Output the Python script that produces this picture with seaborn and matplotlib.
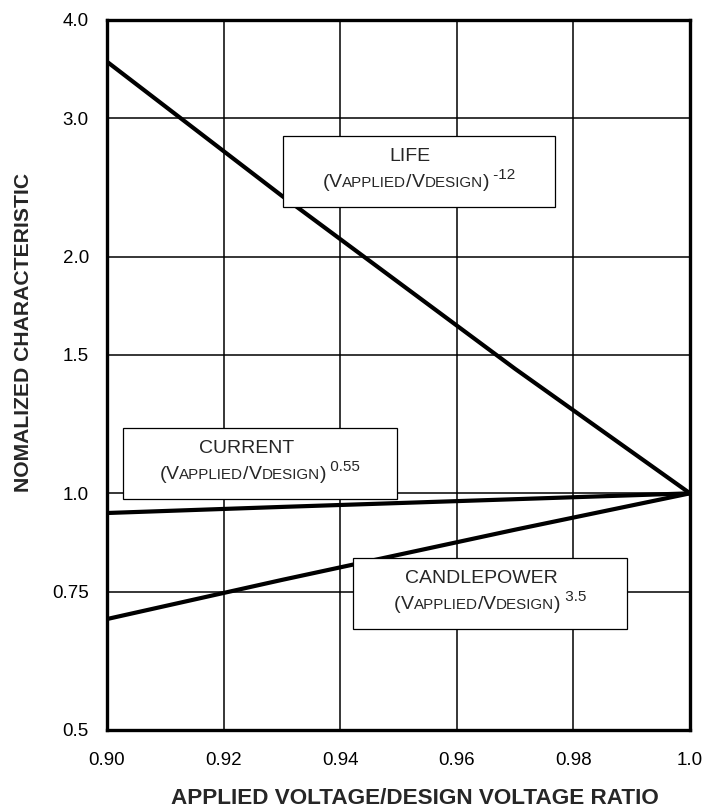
import pandas as pd
import matplotlib.pyplot as plt
import matplotlib.patches as mpatches
import seaborn as sns

##### Data

ratio = [0.90, 0.93, 0.97, 1.00]
life = [3.54, 2.39, 1.44, 1.00]
current = [0.944, 0.961, 0.983, 1.00]
candlepower = [0.692, 0.776, 0.899, 1.00]

y_ticks = [0.5, 0.75, 1.0, 1.5, 2.0, 3.0, 4.0]
y_tick_labels = ["0.5", "0.75", "1.0", "1.5", "2.0", "3.0", "4.0"]
x_ticks = [0.90, 0.92, 0.94, 0.96, 0.98, 1.00]
x_tick_labels = ["0.90", "0.92", "0.94", "0.96", "0.98", "1.0"]

df = pd.DataFrame({
    'ratio': ratio * 3,
    'value': life + current + candlepower,
    'curve': ['LIFE'] * 4 + ['CURRENT'] * 4 + ['CANDLEPOWER'] * 4,
})

##### Style

sns.set_theme(style="white")
plt.rcParams['font.family'] = ['Liberation Sans', 'DejaVu Sans']

W, H = 718, 809
fig = plt.figure(figsize=(W / 100, H / 100), dpi=100)
# axes box in pixels: x 107..690, y 20..730 (from top)
ax = fig.add_axes([107 / W, 1 - 730 / H, 583 / W, 710 / H])

sns.lineplot(data=df, x='ratio', y='value', hue='curve',
             palette={'LIFE': 'black', 'CURRENT': 'black', 'CANDLEPOWER': 'black'},
             linewidth=3.0, legend=False, ax=ax, zorder=3)

ax.set_yscale('log')
ax.set_xlim(0.90, 1.00)
ax.set_ylim(0.5, 4.0)
ax.set_yticks(y_ticks)
ax.set_yticklabels(y_tick_labels)
ax.set_xticks(x_ticks)
ax.set_xticklabels(x_tick_labels)
ax.yaxis.set_minor_locator(plt.NullLocator())
ax.tick_params(axis='both', length=0, labelsize=13.5, colors='black')
ax.tick_params(axis='y', pad=13)
ax.tick_params(axis='x', pad=16)
ax.grid(True, color='black', linewidth=1.1)
ax.set_axisbelow(True)
for s in ax.spines.values():
    s.set_color('black')
    s.set_linewidth(2.4)
ax.set_xlabel('')
ax.set_ylabel('')

fig.text(415 / W, 1 - 804 / H, "APPLIED VOLTAGE/DESIGN VOLTAGE RATIO",
         ha='center', va='baseline', fontsize=16.2, fontweight='bold')
fig.text(24 / W, 1 - 332 / H, "NOMALIZED CHARACTERISTIC", rotation=90,
         ha='center', va='center', fontsize=15.2, fontweight='bold')

##### Annotation boxes with small caps text

renderer = fig.canvas.get_renderer()


def px(x, y):
    # pixel coords from top-left -> figure fraction
    return x / W, 1 - y / H


def label_box(x0, y0, x1, y1, title, exponent):
    ax.add_patch(mpatches.Rectangle(
        ((x0 - 107) / 583, (730 - y1) / 710), (x1 - x0) / 583, (y1 - y0) / 710,
        transform=ax.transAxes, facecolor='white', edgecolor='black',
        linewidth=0.9, zorder=5))
    S = 14
    s = S * 0.78
    pieces = [("(", S, 0), ("V", S, 0), ("APPLIED", s, 0), ("/", S, 0),
              ("V", S, 0), ("DESIGN", s, 0), (")", S, 0),
              (" " + exponent, 11, 8)]
    texts = []
    widths = []
    for txt, size, dy in pieces:
        t = fig.text(0, 0, txt, fontsize=size, ha='left', va='baseline', zorder=6)
        w = t.get_window_extent(renderer).width
        texts.append((t, dy))
        widths.append(w)
    total = sum(widths)
    main = sum(widths[:-1])
    cx = (x0 + x1) / 2
    base = y0 + 51
    x = cx - total / 2
    for (t, dy), w in zip(texts, widths):
        t.set_position(px(x, base - dy))
        x += w
    fig.text(*px(cx - total / 2 + main / 2 + 4, y0 + 25), title, fontsize=S,
             ha='center', va='baseline', zorder=6)


label_box(283, 136, 555, 207, "LIFE", "-12")
label_box(123, 428, 397, 499, "CURRENT", "0.55")
label_box(353, 558, 627, 629, "CANDLEPOWER", "3.5")

fig.savefig("out.png", dpi=100)
